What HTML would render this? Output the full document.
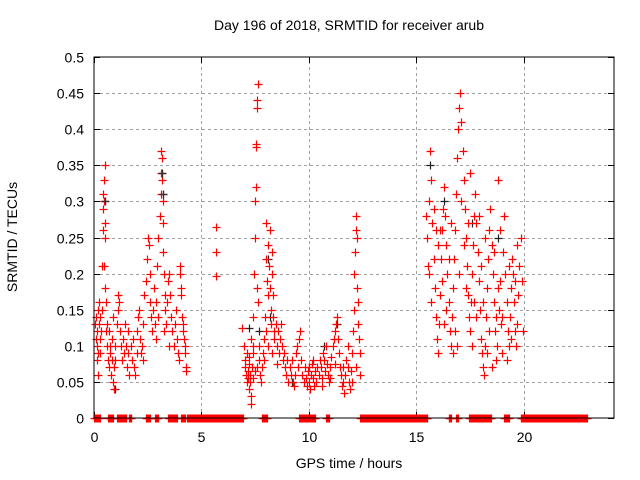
<!DOCTYPE html>
<html><head><meta charset="utf-8"><style>
html,body{margin:0;padding:0;background:#fff}
svg{display:block;font-family:"Liberation Sans",sans-serif}
</style></head><body>
<svg id="chart" width="640" height="480" viewBox="0 0 640 480" xmlns="http://www.w3.org/2000/svg">
<rect width="640" height="480" fill="#fff"/>
<g id="grid"></g>
<g id="ticks"></g>
<g id="marks"></g>
<rect x="94" y="57" width="520" height="361" fill="none" stroke="#000" stroke-width="1"/>
<text x="349" y="30" font-size="14" text-anchor="middle">Day 196 of 2018, SRMTID for receiver arub</text>
<text x="349" y="468" font-size="14" text-anchor="middle">GPS time / hours</text>
<text x="0" y="0" font-size="14" text-anchor="middle" transform="translate(17,237) rotate(-90)">SRMTID / TECUs</text>
</svg>
<script>
const xTicks=[0,5,10,15,20];
const yTicks=[0,0.05,0.1,0.15,0.2,0.25,0.3,0.35,0.4,0.45,0.5];
const yTickLabels=["0","0.05","0.1","0.15","0.2","0.25","0.3","0.35","0.4","0.45","0.5"];
const zeroRanges=[[0,0.3],[0.64,0.9],[1.07,1.5],[1.62,1.76],[2.4,2.62],[2.84,3.0],[3.43,3.9],[4.05,4.26],[4.35,6.97],[7.8,8.05],[9.55,10.3],[10.8,10.95],[12.4,15.55],[16.5,16.65],[16.85,16.95],[17.45,18.5],[19.1,19.3],[19.85,22.95]];
const blackPoints=[[0.5,0.3],[3.15,0.34],[3.2,0.31],[8.1,0.22],[8.2,0.14],[9.2,0.05],[10.7,0.1],[11.3,0.13],[15.65,0.35],[16.3,0.3],[18.8,0.25],[17.6,0.27],[7.7,0.12],[7.2,0.125],[1.0,0.04]];
const redCluster1=[[0.05,0.13],[0.08,0.11],[0.1,0.14],[0.12,0.10],[0.15,0.12],[0.18,0.15],[0.2,0.09],[0.22,0.13],[0.25,0.16],[0.28,0.11],[0.3,0.14],[0.32,0.12],[0.35,0.15],[0.38,0.21],[0.4,0.26],[0.42,0.29],[0.44,0.31],[0.46,0.30],[0.48,0.33],[0.5,0.35],[0.5,0.27],[0.52,0.25],[0.45,0.21],[0.5,0.18],[0.55,0.16],[0.55,0.12],[0.6,0.1],[0.62,0.13],[0.65,0.08],[0.7,0.07],[0.75,0.09],[0.8,0.06],[0.85,0.08],[0.9,0.05],[0.92,0.04],[0.95,0.07],[1.0,0.1],[1.05,0.13],[1.1,0.15],[1.12,0.17],[1.15,0.16],[1.2,0.12],[1.25,0.1],[1.3,0.08],[0.9,0.14],[0.85,0.11],[1.0,0.08],[1.35,0.11],[1.4,0.09],[1.5,0.1],[1.55,0.07],[1.6,0.09],[1.65,0.06],[1.7,0.1],[1.75,0.08],[1.8,0.11],[1.85,0.07],[1.9,0.06],[2.0,0.09],[0.2,0.06],[0.15,0.08],[0.3,0.09],[0.7,0.12],[0.75,0.1],[1.45,0.13],[1.6,0.12]];
const redCluster2=[[2.0,0.12],[2.05,0.14],[2.1,0.15],[2.15,0.11],[2.2,0.09],[2.25,0.1],[2.3,0.13],[2.35,0.17],[2.4,0.19],[2.45,0.22],[2.5,0.25],[2.55,0.24],[2.6,0.2],[2.6,0.16],[2.65,0.14],[2.7,0.12],[2.75,0.15],[2.8,0.18],[2.85,0.13],[2.9,0.16],[2.95,0.21],[3.0,0.25],[3.05,0.28],[3.1,0.31],[3.1,0.34],[3.12,0.37],[3.15,0.36],[3.18,0.33],[3.2,0.3],[3.2,0.27],[3.22,0.23],[3.25,0.2],[3.3,0.17],[3.3,0.15],[3.35,0.13],[3.4,0.16],[3.45,0.19],[3.5,0.2],[3.55,0.17],[3.6,0.14],[3.65,0.12],[3.7,0.1],[3.75,0.13],[3.8,0.15],[3.85,0.11],[3.9,0.09],[3.95,0.08],[4.0,0.21],[4.02,0.2],[4.05,0.18],[4.05,0.17],[4.1,0.14],[4.12,0.13],[4.15,0.12],[4.2,0.11],[4.22,0.1],[4.25,0.09],[4.28,0.07],[4.3,0.065],[2.3,0.08],[2.9,0.11],[3.0,0.14],[3.25,0.12],[3.5,0.1],[5.7,0.265],[5.7,0.23],[5.7,0.197]];
const redCluster3=[[6.9,0.125],[7.0,0.1],[7.02,0.08],[7.05,0.07],[7.08,0.06],[7.1,0.05],[7.12,0.09],[7.15,0.065],[7.18,0.055],[7.2,0.075],[7.22,0.085],[7.25,0.06],[7.28,0.05],[7.3,0.03],[7.32,0.02],[7.35,0.07],[7.38,0.09],[7.4,0.1],[7.42,0.14],[7.45,0.2],[7.48,0.25],[7.5,0.3],[7.52,0.32],[7.55,0.375],[7.55,0.38],[7.58,0.43],[7.6,0.44],[7.62,0.462],[7.6,0.18],[7.65,0.16],[7.7,0.08],[7.72,0.06],[7.75,0.05],[7.8,0.07],[7.85,0.09],[7.9,0.11],[7.95,0.14],[8.0,0.27],[8.02,0.22],[8.05,0.19],[8.1,0.17],[8.12,0.24],[8.15,0.21],[8.18,0.26],[8.2,0.18],[8.22,0.15],[8.25,0.13],[8.28,0.23],[8.3,0.2],[8.32,0.17],[8.35,0.14],[8.38,0.12],[8.4,0.11],[8.45,0.13],[8.5,0.1],[8.55,0.12],[8.6,0.09],[8.65,0.11],[8.7,0.13],[8.75,0.1],[8.8,0.08],[8.85,0.09],[8.9,0.07],[8.95,0.06],[9.0,0.08],[9.05,0.05],[9.1,0.07],[9.15,0.06],[9.2,0.08],[9.25,0.05],[9.3,0.045],[9.35,0.06],[9.4,0.09],[9.45,0.1],[9.5,0.07],[9.55,0.11],[9.6,0.12],[7.3,0.11],[7.4,0.055],[7.5,0.065],[7.6,0.07],[7.9,0.08],[8.0,0.12],[8.1,0.1],[8.3,0.09],[8.5,0.075],[7.2,0.04],[7.7,0.1]];
const redCluster4=[[9.65,0.08],[9.7,0.06],[9.75,0.05],[9.8,0.07],[9.85,0.055],[9.9,0.045],[9.95,0.065],[10.0,0.05],[10.05,0.04],[10.1,0.06],[10.15,0.075],[10.2,0.055],[10.25,0.045],[10.3,0.065],[10.35,0.05],[10.4,0.07],[10.45,0.06],[10.5,0.08],[10.55,0.07],[10.6,0.055],[10.65,0.09],[10.7,0.08],[10.75,0.065],[10.8,0.1],[10.85,0.075],[10.9,0.06],[10.95,0.05],[11.0,0.07],[11.05,0.085],[11.1,0.1],[11.15,0.11],[11.2,0.12],[11.25,0.13],[11.3,0.14],[11.35,0.11],[11.4,0.09],[11.45,0.07],[11.5,0.06],[11.55,0.045],[11.6,0.05],[11.65,0.035],[11.7,0.06],[11.75,0.08],[11.8,0.07],[11.85,0.05],[11.9,0.04],[11.95,0.065],[12.0,0.09],[12.05,0.12],[12.1,0.15],[12.12,0.2],[12.15,0.23],[12.18,0.26],[12.2,0.28],[12.22,0.25],[12.25,0.18],[12.28,0.16],[12.3,0.13],[12.35,0.11],[12.4,0.09],[12.4,0.06],[10.0,0.07],[10.2,0.08],[10.6,0.045],[11.0,0.055],[11.2,0.075],[11.6,0.07],[11.8,0.1],[12.0,0.05],[12.2,0.07]];
const redCluster5=[[15.45,0.28],[15.5,0.25],[15.55,0.21],[15.6,0.3],[15.65,0.37],[15.7,0.33],[15.75,0.27],[15.8,0.22],[15.85,0.18],[15.9,0.14],[15.95,0.11],[16.0,0.09],[16.05,0.13],[16.1,0.17],[16.15,0.22],[16.2,0.26],[16.25,0.29],[16.3,0.32],[16.35,0.28],[16.4,0.24],[16.45,0.2],[16.5,0.16],[16.55,0.12],[16.6,0.1],[16.65,0.14],[16.7,0.18],[16.75,0.22],[16.8,0.26],[16.85,0.31],[16.9,0.36],[16.95,0.4],[17.0,0.43],[17.05,0.45],[17.1,0.41],[17.15,0.37],[17.2,0.33],[17.25,0.29],[17.3,0.25],[17.35,0.21],[17.4,0.17],[17.45,0.14],[17.5,0.12],[17.55,0.16],[17.6,0.2],[17.65,0.24],[17.7,0.28],[17.75,0.31],[17.8,0.27],[17.85,0.23],[17.9,0.19],[17.95,0.15],[18.0,0.11],[18.05,0.09],[18.1,0.07],[18.15,0.06],[18.2,0.1],[18.25,0.14],[18.3,0.18],[18.35,0.22],[18.4,0.26],[18.45,0.29],[18.5,0.24],[18.55,0.2],[18.6,0.16],[18.65,0.12],[18.7,0.08],[18.75,0.1],[18.8,0.33],[18.85,0.15],[18.9,0.19],[18.95,0.13],[19.0,0.09],[19.05,0.23],[19.1,0.28],[19.15,0.2],[19.2,0.16],[19.25,0.12],[19.3,0.1],[19.35,0.14],[19.4,0.18],[19.45,0.22],[19.5,0.2],[19.55,0.16],[19.6,0.12],[19.65,0.1],[19.7,0.13],[19.75,0.17],[19.8,0.21],[19.85,0.25],[19.9,0.19],[19.95,0.12],[15.6,0.2],[15.8,0.29],[16.0,0.24],[16.2,0.19],[16.4,0.15],[16.6,0.27],[16.8,0.12],[17.0,0.2],[17.2,0.24],[17.4,0.27],[17.6,0.1],[17.8,0.14],[18.0,0.21],[18.2,0.25],[18.4,0.12],[18.6,0.23],[18.8,0.18],[19.0,0.14],[19.2,0.08],[19.4,0.11],[19.6,0.19],[15.7,0.16],[16.1,0.26],[16.5,0.22],[16.9,0.1],[17.3,0.18],[17.7,0.16],[18.1,0.16],[18.5,0.07],[18.9,0.26],[19.3,0.21],[17.1,0.3],[17.5,0.34],[16.7,0.09],[15.9,0.26],[16.3,0.13],[18.3,0.09],[19.7,0.24],[17.9,0.28],[18.7,0.14]];

const X0=94,X1=614,Y0=418,Y1=57,XMAX=24.2,YMAX=0.5;
const NS="http://www.w3.org/2000/svg";
function sx(t){return X0+(X1-X0)*t/XMAX;}
function sy(v){return Y0-(Y0-Y1)*v/YMAX;}
function mk(tag,attrs,parent){const e=document.createElementNS(NS,tag);for(const k in attrs)e.setAttribute(k,attrs[k]);parent.appendChild(e);return e;}
const grid=document.getElementById('grid'),ticks=document.getElementById('ticks'),marks=document.getElementById('marks');
xTicks.forEach(t=>{
  const x=Math.round(sx(t))+0.5;
  if(t>0){const g=mk('line',{x1:x,y1:Y0,x2:x,y2:Y1,stroke:'#a0a0a0','stroke-dasharray':'3,3'},grid);
  
  }
  const tk=mk('path',{d:`M${x},${Y0}v-6M${x},${Y1}v6`,stroke:'#000'},ticks);
  
  
  const l=mk('text',{x:x,y:Y0+24,'font-size':14,'text-anchor':'middle'},ticks);l.textContent=String(t);
  
  
});
yTicks.forEach((v,i)=>{
  const y=Math.round(sy(v))+0.5;
  if(v>0&&v<YMAX){const g=mk('line',{x1:X0,y1:y,x2:X1,y2:y,stroke:'#a0a0a0','stroke-dasharray':'3,3'},grid);
  
  }
  const tk=mk('path',{d:`M${X0},${y}h6M${X1},${y}h-6`,stroke:'#000'},ticks);
  
  
  const l=mk('text',{x:X0-10,y:y+5,'font-size':14,'text-anchor':'end'},ticks);l.textContent=yTickLabels[i];
  
  
});
function plus(t,v,color,name){
  const x=Math.round(sx(t))+0.5,y=Math.round(sy(v))+0.5;
  const p=mk('path',{d:`M${x-4},${y}h8M${x},${y-4}v8`,stroke:color,'stroke-width':1.2,fill:'none'},marks);
  
  
}
blackPoints.forEach(p=>plus(p[0],p[1],'#222','black-point'));
zeroRanges.forEach(r=>{for(let t=r[0];t<=r[1]+1e-9;t+=0.04)plus(t,0,'#ff0000','zero-point');});
[redCluster1,redCluster2,redCluster3,redCluster4,redCluster5].forEach(c=>c.forEach(p=>plus(p[0],p[1],'#ff0000','red-point')));
blackPoints.slice(0,3).forEach(p=>plus(p[0],p[1],'#333','black-point'));
</script>
</body></html>
